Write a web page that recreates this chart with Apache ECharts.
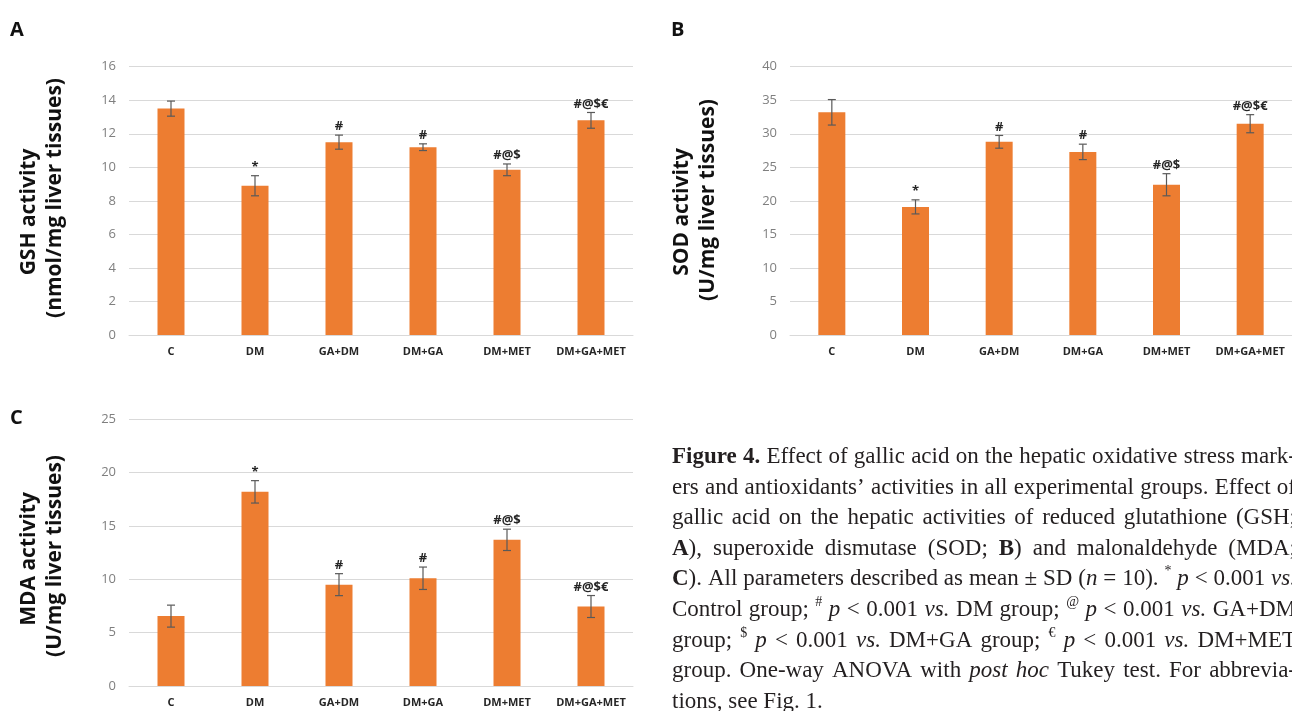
<!DOCTYPE html>
<html><head><meta charset="utf-8">
<script src="https://cdn.jsdelivr.net/npm/echarts@6/dist/echarts.min.js"></script>
<style>html,body{margin:0;padding:0;background:#fff}#c{width:1292px;height:711px}</style>
</head><body><div id="c"></div>
<script>
// ---------- data ----------
const categories = ['C', 'DM', 'GA+DM', 'DM+GA', 'DM+MET', 'DM+GA+MET'];
const gshMean = [13.5, 8.9, 11.5, 11.2, 9.85, 12.8];
const gshSD   = [0.45, 0.6, 0.42, 0.2, 0.35, 0.47];
const sodMean = [33.2, 19.1, 28.8, 27.3, 22.4, 31.5];
const sodSD   = [1.9, 1.05, 0.95, 1.15, 1.65, 1.35];
const mdaMean = [6.55, 18.2, 9.5, 10.1, 13.7, 7.45];
const mdaSD   = [1.03, 1.05, 1.03, 1.05, 1.0, 1.03];
const gshSig = ['', '*', '#', '#', '#@$', '#@$€'];
const sodSig = ['', '*', '#', '#', '#@$', '#@$€'];
const mdaSig = ['', '*', '#', '#', '#@$', '#@$€'];
const gshTicks = [0, 2, 4, 6, 8, 10, 12, 14, 16];
const sodTicks = [0, 5, 10, 15, 20, 25, 30, 35, 40];
const mdaTicks = [0, 5, 10, 15, 20, 25];
const panelLetters = ['A', 'B', 'C'];
const yTitles = [
  ['GSH activity', '(nmol/mg liver tissues)'],
  ['SOD activity', '(U/mg liver tissues)'],
  ['MDA activity', '(U/mg liver tissues)']
];
const captionLines = [
  '{b|Figure} {b|4.} Effect of gallic acid on the hepatic oxidative stress mark-',
  'ers and antioxidants’ activities in all experimental groups. Effect of',
  'gallic acid on the hepatic activities of reduced glutathione (GSH;',
  '{b|A}), superoxide dismutase (SOD; {b|B}) and malonaldehyde (MDA;',
  '{b|C}). All parameters described as mean ± SD ({i|n} = 10). {sup|*} {i|p} < 0.001 {i|vs.}',
  'Control group; {sup|#} {i|p} < 0.001 {i|vs.} DM group; {sup|@} {i|p} < 0.001 {i|vs.} GA+DM',
  'group; {sup|$} {i|p} < 0.001 {i|vs.} DM+GA group; {sup|€} {i|p} < 0.001 {i|vs.} DM+MET',
  'group. One-way ANOVA with {i|post} {i|hoc} Tukey test. For abbrevia-',
  'tions, see Fig. 1.'
];

// ---------- layout ----------
const grids = [
  {left: 129, top: 66.7, width: 504, height: 268.3},
  {left: 790, top: 66.7, width: 504, height: 268.3},
  {left: 129, top: 419.3, width: 504, height: 266.7}
];
const BAR = '#ED7D31', GRID = '#d9d9d9', ERR = '#595959';
const panels = [
  {mean: gshMean, sd: gshSD, sig: gshSig, ticks: gshTicks},
  {mean: sodMean, sd: sodSD, sig: sodSig, ticks: sodTicks},
  {mean: mdaMean, sd: mdaSD, sig: mdaSig, ticks: mdaTicks}
];

function errRender(sig) {
  return function (params, api) {
    const i = api.value(0), m = api.value(1), s = api.value(2);
    const top = api.coord([i, m + s]), bot = api.coord([i, m - s]);
    const cx = top[0], hw = 4;
    const ls = {stroke: ERR, lineWidth: 1.2};
    const ch = [
      {type: 'line', shape: {x1: cx, y1: top[1], x2: cx, y2: bot[1]}, style: ls},
      {type: 'line', shape: {x1: cx - hw, y1: top[1], x2: cx + hw, y2: top[1]}, style: ls},
      {type: 'line', shape: {x1: cx - hw, y1: bot[1], x2: cx + hw, y2: bot[1]}, style: ls}
    ];
    const t = sig[params.dataIndex];
    if (t) ch.push({type: 'text', x: cx, y: top[1] - 2,
      style: {text: t, font: 'bold 13px "Open Sans"', fill: '#262626',
              align: 'center', verticalAlign: 'bottom', textAlign: 'center', textVerticalAlign: 'bottom'}});
    return {type: 'group', children: ch};
  };
}

const xAxis = [], yAxis = [], series = [];
panels.forEach((p, k) => {
  xAxis.push({type: 'category', gridIndex: k, data: categories,
    axisTick: {show: false}, axisLine: {lineStyle: {color: GRID, width: 1}},
    axisLabel: {interval: 0, fontFamily: 'Open Sans', fontWeight: 'bold', fontSize: 11, color: '#262626', margin: 11}});
  const t = p.ticks;
  yAxis.push({type: 'value', gridIndex: k, min: t[0], max: t[t.length - 1], interval: t[1] - t[0],
    axisLine: {show: false}, axisTick: {show: false},
    splitLine: {lineStyle: {color: GRID, width: 1}},
    axisLabel: {fontFamily: 'Open Sans', fontSize: 13, color: '#7f7f7f', margin: 13}});
  series.push({type: 'bar', xAxisIndex: k, yAxisIndex: k, data: p.mean, barWidth: 27,
    itemStyle: {color: BAR}, silent: true, animation: false});
  series.push({type: 'custom', xAxisIndex: k, yAxisIndex: k, renderItem: errRender(p.sig),
    data: p.mean.map((m, i) => [i, m, p.sd[i]]), encode: {x: 0, y: 1}, z: 5, silent: true, animation: false});
});

// ---------- graphic texts ----------
const graphic = [];
const letterPos = [[10, 30], [671, 30], [10, 418]];
panelLetters.forEach((L, k) => graphic.push({type: 'text', x: letterPos[k][0], y: letterPos[k][1],
  style: {text: L, font: 'bold 20px "Open Sans"', fill: '#111', align: 'left', verticalAlign: 'middle',
          textAlign: 'left', textVerticalAlign: 'middle'}}));
const titleX = [[29, 55], [682, 708], [29, 55]];
const titleY = [[212, 198], [212, 200], [559, 556]];
yTitles.forEach((tt, k) => tt.forEach((s, j) => graphic.push({type: 'text', x: titleX[k][j], y: titleY[k][j],
  rotation: Math.PI / 2,
  style: {text: s, font: 'bold 21px "Open Sans"', fill: '#111', align: 'center', verticalAlign: 'middle',
          textAlign: 'center', textVerticalAlign: 'middle'}})));

// caption, justified
(function () {
  const fs = 23, fam = '"Liberation Serif", "Times New Roman", serif';
  const st = {
    n: {font: fs + 'px ' + fam, dy: 0},
    b: {font: 'bold ' + fs + 'px ' + fam, dy: 0},
    i: {font: 'italic ' + fs + 'px ' + fam, dy: 0},
    sup: {font: Math.round(fs * 0.62) + 'px ' + fam, dy: -fs * 0.33}
  };
  const ctx = document.createElement('canvas').getContext('2d');
  const left = 672, right = 1296, y0 = 457, lh = 30.6;
  const W = right - left;
  ctx.font = st.n.font; const space = ctx.measureText(' ').width;
  captionLines.forEach((line, li) => {
    const words = line.split(' ').map(w => {
      const segs = []; const re = /\{(\w+)\|([^}]*)\}|([^{]+)/g; let m;
      while ((m = re.exec(w))) segs.push(m[3] !== undefined ? {s: 'n', t: m[3]} : {s: m[1], t: m[2]});
      let wd = 0; segs.forEach(g => { ctx.font = st[g.s].font; g.w = ctx.measureText(g.t).width; wd += g.w; });
      return {segs, w: wd};
    });
    const total = words.reduce((a, w) => a + w.w, 0);
    const last = li === captionLines.length - 1;
    const gap = last ? space : Math.max(space * 0.6, (W - total) / (words.length - 1));
    let x = left; const y = y0 + li * lh;
    words.forEach(w => {
      w.segs.forEach(g => {
        graphic.push({type: 'text', x: x, y: y + st[g.s].dy,
          style: {text: g.t, font: st[g.s].font, fill: '#231f20', align: 'left', verticalAlign: 'middle',
                  textAlign: 'left', textVerticalAlign: 'middle'}});
        x += g.w;
      });
      x += gap;
    });
  });
})();

const chart = echarts.init(document.getElementById('c'), null, {renderer: 'canvas'});
chart.setOption({
  animation: false,
  backgroundColor: '#ffffff',
  grid: grids.map(g => Object.assign({containLabel: false}, g)),
  xAxis, yAxis, series, graphic
});
</script></body></html>
